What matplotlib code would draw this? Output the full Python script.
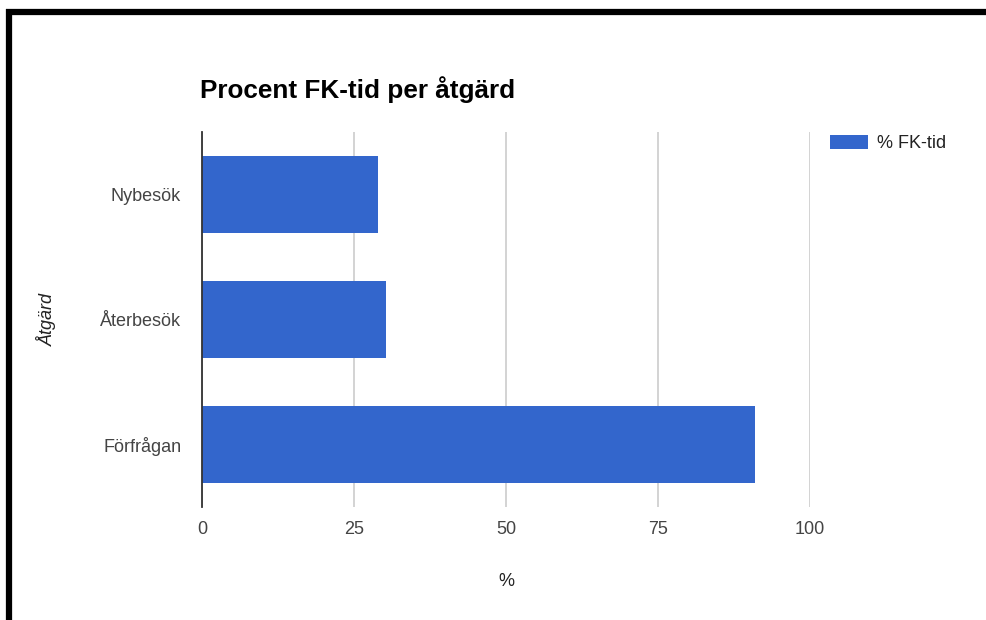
import matplotlib.pyplot as plt
from matplotlib.lines import Line2D

# data
categories = ['Nybesök', 'Återbesök', 'Förfrågan']
values = [28.9, 30.3, 91.0]
series_name = '% FK-tid'
x_ticks = [0, 25, 50, 75, 100]

W, H = 987, 620
fig = plt.figure(figsize=(W / 100, H / 100), dpi=100)
plt.rcParams['font.family'] = ['Liberation Sans', 'DejaVu Sans']

# plot area in pixels: x 202..810, y 132..507
ax = fig.add_axes([202 / W, (H - 507) / H, (810 - 202) / W, (507 - 132) / H])

bar_color = '#3366cc'
ypos = list(range(len(categories)))[::-1]
ax.barh(ypos, values, height=0.614, color=bar_color, label=series_name, zorder=3)

ax.set_xlim(0, 100)
ax.set_ylim(-0.5, 2.5)
ax.set_xticks(x_ticks)
ax.set_xticklabels([str(t) for t in x_ticks])
ax.set_yticks(ypos)
ax.set_yticklabels(categories)
ax.tick_params(axis='both', length=0, labelsize=13, colors='#444444')
ax.tick_params(axis='y', pad=15)
ax.tick_params(axis='x', pad=10)

# gridlines
ax.grid(axis='x', color='#cccccc', linewidth=1.2, zorder=0)
ax.set_axisbelow(True)
for s in ['top', 'right', 'bottom']:
    ax.spines[s].set_visible(False)
ax.spines['left'].set_color('#333333')
ax.spines['left'].set_linewidth(1.3)
ax.spines['left'].set_zorder(4)

ax.set_xlabel('%', fontsize=13, color='#222222', labelpad=25)
ax.set_ylabel('Åtgärd', fontsize=13, color='#222222', style='italic', labelpad=31)

fig.text(200 / W, (H - 98) / H, 'Procent FK-tid per åtgärd', fontsize=18.8,
         fontweight='bold', color='#000000', ha='left', va='baseline')

leg = ax.legend(loc='upper left', bbox_to_anchor=(821 / W, (H - 126) / H),
                bbox_transform=fig.transFigure, frameon=False, fontsize=13,
                handlelength=2.1, handleheight=0.85, borderpad=0, handletextpad=0.5)
for t in leg.get_texts():
    t.set_color('#222222')

# black frame
fig.add_artist(Line2D([6 / W, 1], [(H - 12) / H] * 2, color='black', linewidth=4.5,
                      transform=fig.transFigure, solid_capstyle='butt'))
fig.add_artist(Line2D([9 / W] * 2, [0, (H - 9) / H], color='black', linewidth=4.5,
                      transform=fig.transFigure, solid_capstyle='butt'))

plt.savefig('out.png', dpi=100)
